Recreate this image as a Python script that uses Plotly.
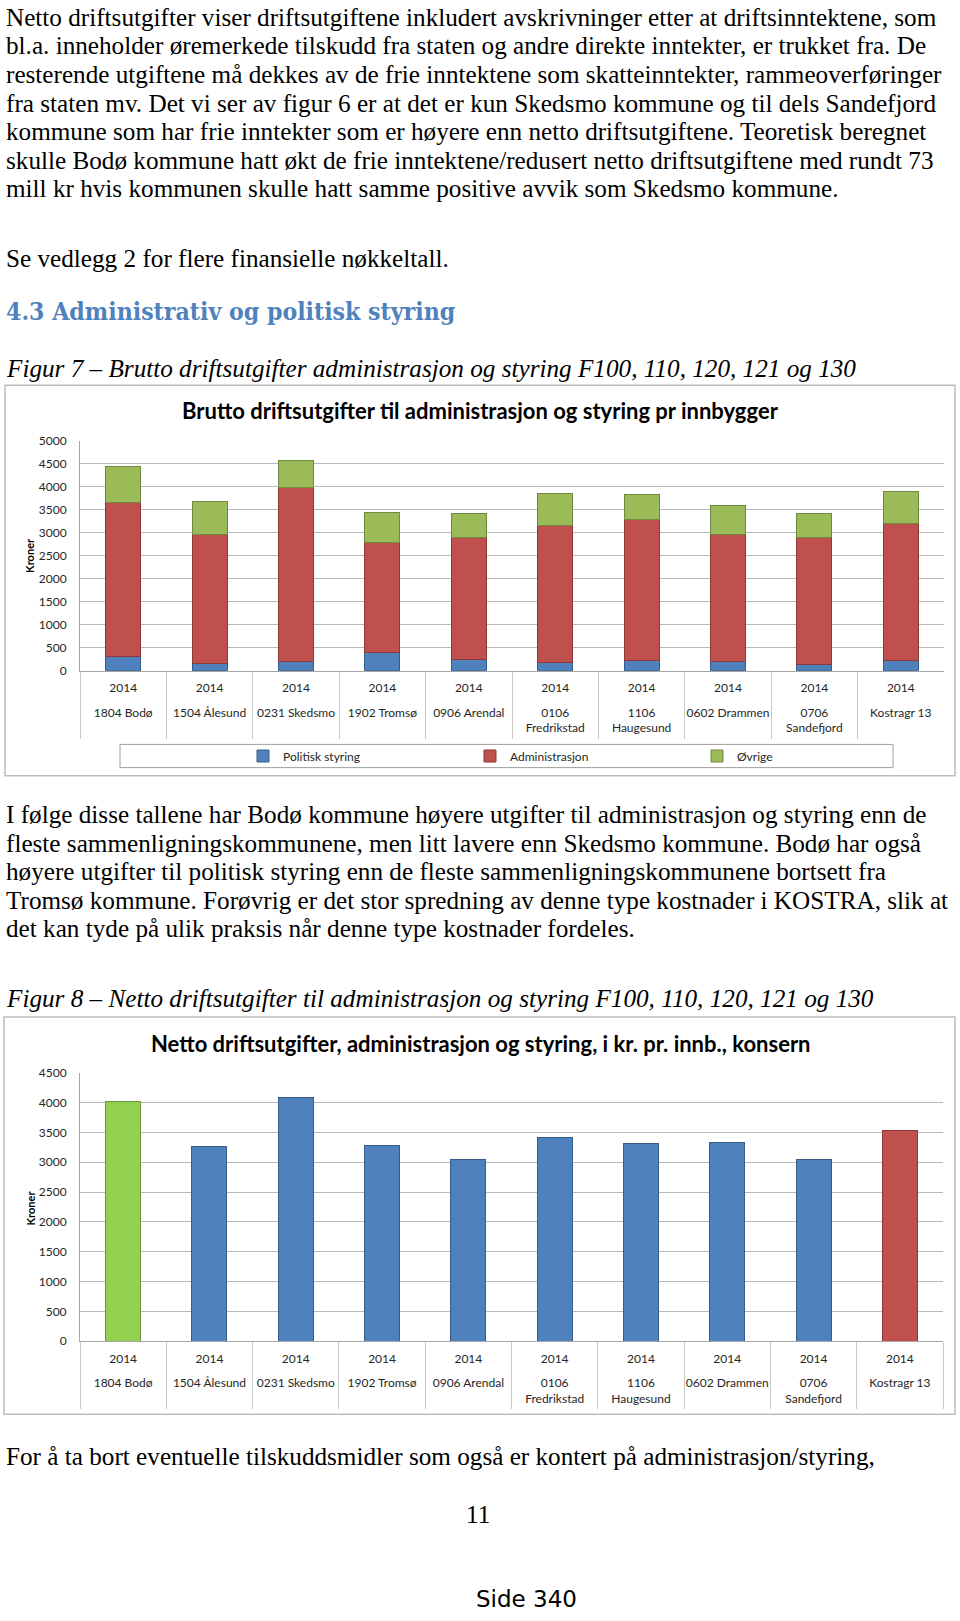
import plotly.graph_objects as go

W, H = 960, 1621

# ---------------- data ----------------
municipalities = ["1804 Bodø", "1504 Ålesund", "0231 Skedsmo", "1902 Tromsø", "0906 Arendal",
                  "0106<br>Fredrikstad", "1106<br>Haugesund", "0602 Drammen", "0706<br>Sandefjord",
                  "Kostragr 13"]
years = ["2014"] * 10
politisk_styring = [300, 150, 210, 387, 250, 180, 230, 210, 136, 230]
administrasjon = [3365, 2813, 3780, 2390, 2655, 2970, 3063, 2745, 2762, 2976]
ovrige = [783, 717, 580, 667, 517, 696, 538, 639, 509, 682]
netto_drift = [4018, 3271, 4085, 3288, 3044, 3415, 3315, 3327, 3044, 3531]

para1 = [
    "Netto driftsutgifter viser driftsutgiftene inkludert avskrivninger etter at driftsinntektene, som",
    "bl.a. inneholder øremerkede tilskudd fra staten og andre direkte inntekter, er trukket fra. De",
    "resterende utgiftene må dekkes av de frie inntektene som skatteinntekter, rammeoverføringer",
    "fra staten mv. Det vi ser av figur 6 er at det er kun Skedsmo kommune og til dels Sandefjord",
    "kommune som har frie inntekter som er høyere enn netto driftsutgiftene. Teoretisk beregnet",
    "skulle Bodø kommune hatt økt de frie inntektene/redusert netto driftsutgiftene med rundt 73",
    "mill kr hvis kommunen skulle hatt samme positive avvik som Skedsmo kommune.",
]
para2 = [
    "I følge disse tallene har Bodø kommune høyere utgifter til administrasjon og styring enn de",
    "fleste sammenligningskommunene, men litt lavere enn Skedsmo kommune. Bodø har også",
    "høyere utgifter til politisk styring enn de fleste sammenligningskommunene bortsett fra",
    "Tromsø kommune. Forøvrig er det stor spredning av denne type kostnader i KOSTRA, slik at",
    "det kan tyde på ulik praksis når denne type kostnader fordeles.",
]

# ---------------- helpers ----------------
def px(x):
    return x / W

def py(y):
    return 1 - y / H

SERIF = "Liberation Serif, Times New Roman, serif"
SANS = "Lato, Carlito, Calibri, sans-serif"
BODY = 25.2
DY = -3.0  # visual correction for annotation box vs. glyph centre

BLUE, RED, GREEN, LGREEN = "#4F81BD", "#C0504D", "#9BBB59", "#92D050"
BLUE_L, RED_L, GREEN_L, LGREEN_L = "#385D8A", "#8C3836", "#71893F", "#6B9A3A"

n = len(municipalities)
fig = go.Figure()

# chart 1 (stacked)
for name, vals, col, lc in [("Politisk styring", politisk_styring, BLUE, BLUE_L),
                            ("Administrasjon", administrasjon, RED, RED_L),
                            ("Øvrige", ovrige, GREEN, GREEN_L)]:
    fig.add_trace(go.Bar(x=municipalities, y=vals, name=name,
                         marker=dict(color=col, line=dict(color=lc, width=1)),
                         xaxis="x", yaxis="y"))

# chart 2
bar2_colors = [LGREEN if m.startswith("1804") else (RED if m.startswith("Kostragr") else BLUE)
               for m in municipalities]
bar2_lines = [LGREEN_L if m.startswith("1804") else (RED_L if m.startswith("Kostragr") else BLUE_L)
              for m in municipalities]
fig.add_trace(go.Bar(x=municipalities, y=netto_drift, showlegend=False,
                     marker=dict(color=bar2_colors, line=dict(color=bar2_lines, width=1)),
                     xaxis="x2", yaxis="y2"))

# empty helper traces so the overlaid name axes get a subplot (nothing is drawn)
for xa, ya in [("x3", "y"), ("x4", "y2")]:
    fig.add_trace(go.Scatter(x=list(range(n)), y=[None] * n, mode="lines", showlegend=False,
                             hoverinfo="skip", xaxis=xa, yaxis=ya))

tickfont = dict(family=SANS, size=12, color="#262626")
XR = [-0.5, n - 0.5]
# main category axis: year labels + boundary dividers
xmain = dict(type="category", categoryorder="array", categoryarray=municipalities, range=XR,
             tickmode="array", tickvals=municipalities, ticktext=years,
             showgrid=False, showline=True, linecolor="#a6a6a6", linewidth=1,
             ticks="outside", tickson="boundaries", ticklen=67, tickcolor="#c8c8c8", tickwidth=1,
             ticklabelstandoff=6, tickfont=tickfont, fixedrange=True)
# overlaid axis: municipality names (same index scale as the category axis)
xname = dict(visible=True, type="linear", range=XR, tickmode="array", tickvals=list(range(n)),
             ticktext=municipalities, showticklabels=True, showgrid=False, showline=False,
             zeroline=False, ticks="", side="bottom", ticklabelstandoff=33, tickfont=tickfont,
             fixedrange=True)
ycommon = dict(showgrid=True, gridcolor="#b8b8b8", gridwidth=1, showline=True,
               linecolor="#a6a6a6", zeroline=False, ticks="", tickfont=tickfont,
               ticklabelstandoff=10, dtick=500, fixedrange=True)

fig.update_layout(
    width=W, height=H, margin=dict(l=0, r=0, t=0, b=0),
    paper_bgcolor="white", plot_bgcolor="white",
    barmode="stack", bargap=0.595,
    xaxis=dict(domain=[px(80), px(944)], anchor="y", **xmain),
    xaxis3=dict(domain=[px(80), px(944)], anchor="y", overlaying="x", **xname),
    yaxis=dict(domain=[py(669), py(436.7)], range=[0, 5000], anchor="x", **ycommon),
    xaxis2=dict(domain=[px(80), px(943)], anchor="y2", **xmain),
    xaxis4=dict(domain=[px(80), px(943)], anchor="y2", overlaying="x2", **xname),
    yaxis2=dict(domain=[py(1345.7), py(1074.7)], range=[0, 4500], anchor="x2", **ycommon),
    showlegend=True,
    legend=dict(orientation="h", x=px(243), y=py(755), xanchor="left", yanchor="middle",
                entrywidth=182, entrywidthmode="pixels", bgcolor="rgba(0,0,0,0)",
                font=dict(family=SANS, size=12, color="#262626"), traceorder="normal"),
)

ann = []

def text(x, y, s, size=BODY, family=SERIF, color="black", anchor="left", angle=0, dy=DY):
    ann.append(dict(x=px(x), y=py(y + dy), xref="paper", yref="paper", text=s, showarrow=False,
                    xanchor=anchor, yanchor="middle", textangle=angle,
                    font=dict(family=family, size=size, color=color)))

p1_y = [12.5, 41.2, 70.2, 99, 127.8, 156.7, 185.3]
for yy, s in zip(p1_y, para1):
    text(4, yy, s)
text(4, 255.5, "Se vedlegg 2 for flere finansielle nøkkeltall.")
text(4, 309, "<b>4.3 Administrativ og politisk styring</b>", size=24.6,
     family="DejaVu Serif Condensed, Liberation Serif, serif", color="#4F81BD")
text(4, 366.7, "<i>Figur 7 – Brutto driftsutgifter administrasjon og styring F100, 110, 120, 121 og 130</i>")
p2_y = [817.5, 846.3, 875, 903.7, 932.3]
for yy, s in zip(p2_y, para2):
    text(4, yy, s)
text(4, 1002.5, "<i>Figur 8 – Netto driftsutgifter til administrasjon og styring F100, 110, 120, 121 og 130</i>")
text(4, 1465, "For å ta bort eventuelle tilskuddsmidler som også er kontert på administrasjon/styring,")
text(477.6, 1523.3, "11", anchor="center")
text(526.6, 1608.3, "Side 340", size=23, family="DejaVu Sans, sans-serif", anchor="center", dy=-2)

# chart titles
text(480, 406.7, "<b>Brutto driftsutgifter til administrasjon og styring pr innbygger</b>",
     size=22, family=SANS, anchor="center", dy=0)
text(481, 1045, "<b>Netto driftsutgifter, administrasjon og styring, i kr. pr. innb., konsern</b>",
     size=22, family=SANS, anchor="center", dy=0)
text(30, 553, "<b>Kroner</b>", size=11, family=SANS, anchor="center", angle=-90, dy=0)
text(30, 1211.7, "<b>Kroner</b>", size=11, family=SANS, anchor="center", angle=-90, dy=0)

fig.update_layout(annotations=ann)

shapes = [
    dict(type="rect", xref="paper", yref="paper", x0=px(5), x1=px(955), y0=py(775), y1=py(380.7),
         line=dict(color="#bdbdbd", width=1.5)),
    dict(type="rect", xref="paper", yref="paper", x0=px(4), x1=px(955), y0=py(1419.3), y1=py(1018.5),
         line=dict(color="#bdbdbd", width=1.5)),
    dict(type="rect", xref="paper", yref="paper", x0=px(120), x1=px(893), y0=py(766.7), y1=py(743.3),
         line=dict(color="#a0a0a0", width=1)),
]
fig.update_layout(shapes=shapes)

fig.write_html("out.html", config={"displayModeBar": False},
               post_script="document.body.style.margin='0px';document.body.style.overflow='hidden';")
